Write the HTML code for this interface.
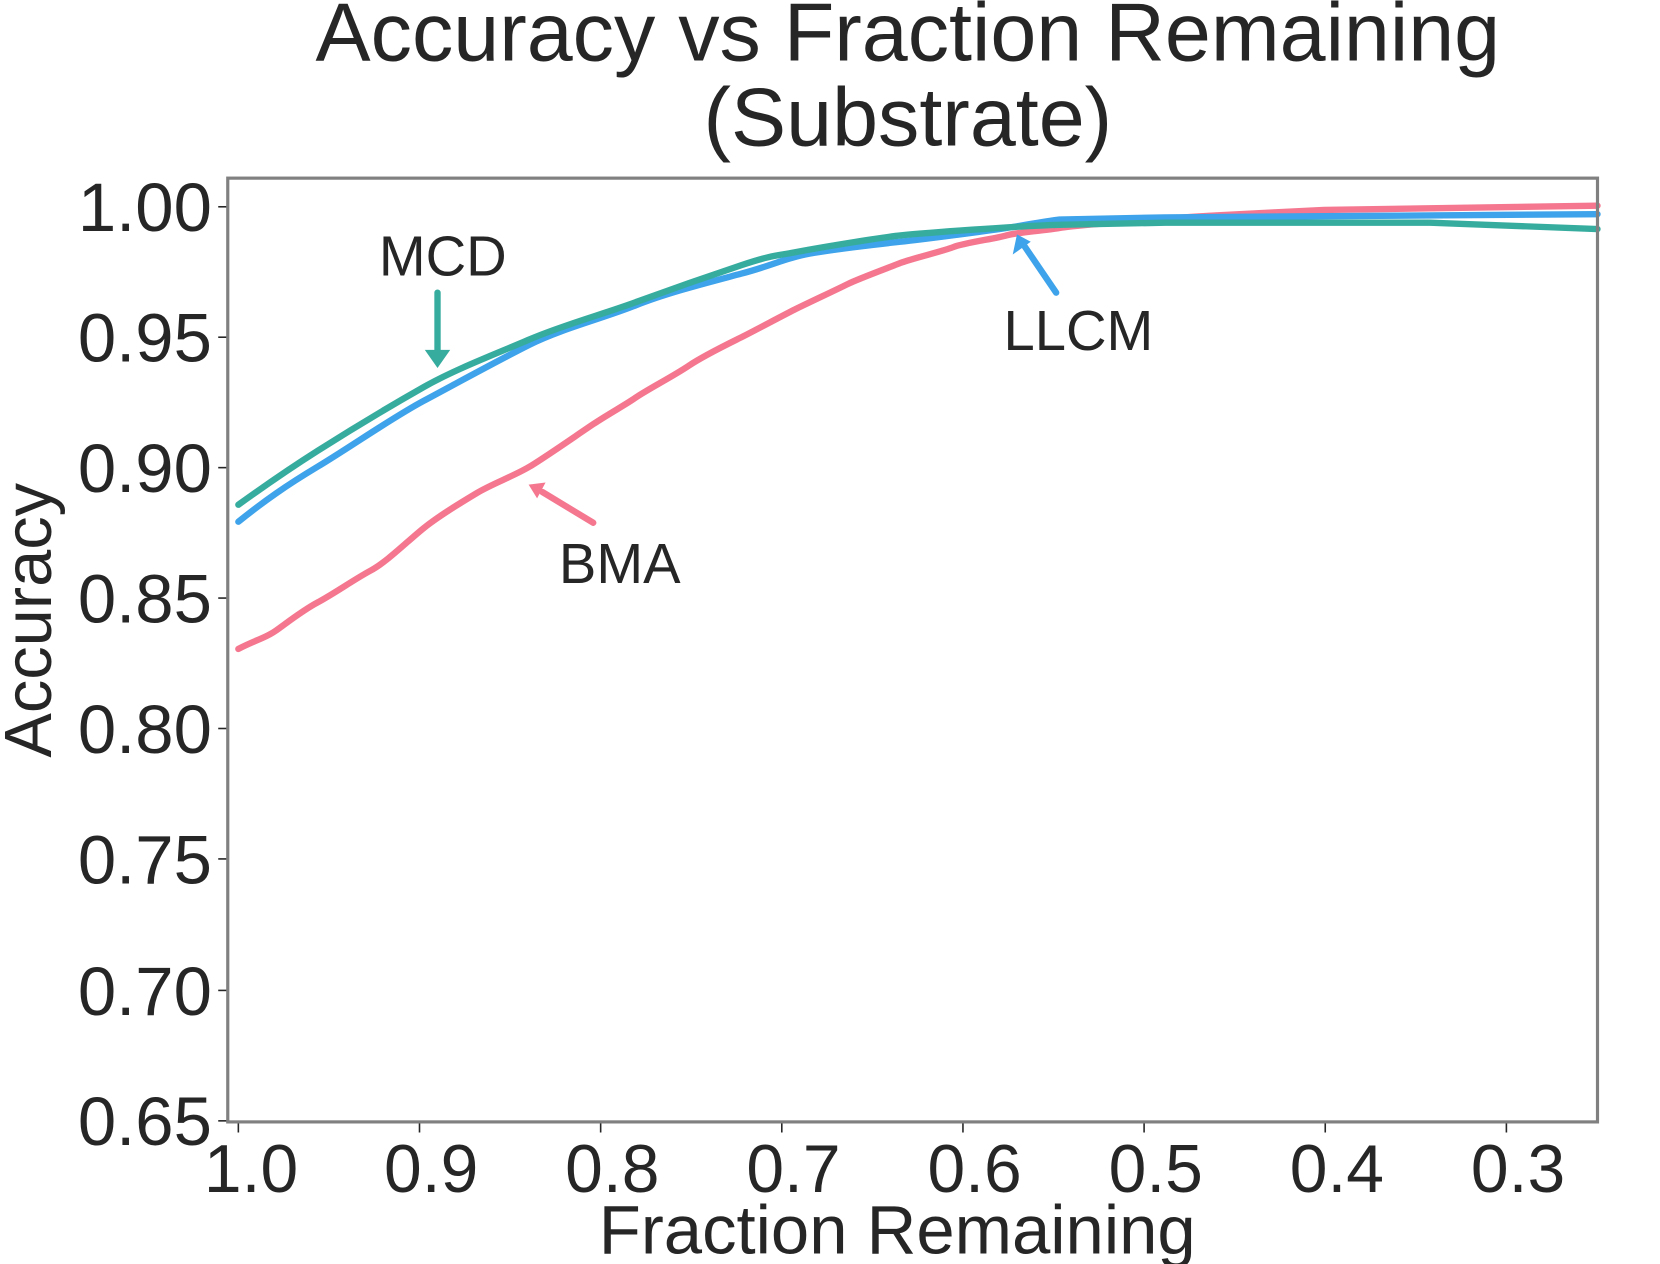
<!DOCTYPE html>
<html><head><style>html,body{margin:0;padding:0;background:#fff}svg{display:block}</style></head>
<body>
<svg width="1660" height="1264" viewBox="0 0 1567 1192" preserveAspectRatio="none" xmlns="http://www.w3.org/2000/svg" font-family="Liberation Sans, sans-serif">
<rect width="1567" height="1192" fill="#fff"/>
<text x="857" y="57" font-size="78" text-anchor="middle" fill="#262626">Accuracy vs Fraction Remaining</text>
<text x="857" y="137" font-size="78" text-anchor="middle" fill="#262626">(Substrate)</text>
<g stroke="#262626" stroke-width="1.5">
<line x1="225" y1="1058" x2="225" y2="1068"/><line x1="396" y1="1058" x2="396" y2="1068"/><line x1="567" y1="1058" x2="567" y2="1068"/><line x1="738" y1="1058" x2="738" y2="1068"/><line x1="909" y1="1058" x2="909" y2="1068"/><line x1="1080" y1="1058" x2="1080" y2="1068"/><line x1="1251" y1="1058" x2="1251" y2="1068"/><line x1="1422" y1="1058" x2="1422" y2="1068"/>
<line x1="206" y1="195" x2="215" y2="195"/><line x1="206" y1="318" x2="215" y2="318"/><line x1="206" y1="441" x2="215" y2="441"/><line x1="206" y1="564" x2="215" y2="564"/><line x1="206" y1="687" x2="215" y2="687"/><line x1="206" y1="810" x2="215" y2="810"/><line x1="206" y1="934" x2="215" y2="934"/><line x1="206" y1="1057" x2="215" y2="1057"/>
</g>
<g font-size="64" fill="#262626" text-anchor="middle">
<text x="237" y="1124">1.0</text><text x="407" y="1124">0.9</text><text x="578" y="1124">0.8</text><text x="749" y="1124">0.7</text><text x="920" y="1124">0.6</text><text x="1091" y="1124">0.5</text><text x="1262" y="1124">0.4</text><text x="1433" y="1124">0.3</text>
</g>
<g font-size="65" fill="#262626" text-anchor="end">
<text x="200" y="218">1.00</text><text x="200" y="341">0.95</text><text x="200" y="464">0.90</text><text x="200" y="587">0.85</text><text x="200" y="710">0.80</text><text x="200" y="833">0.75</text><text x="200" y="957">0.70</text><text x="200" y="1080">0.65</text>
</g>
<text x="847" y="1182" font-size="65" text-anchor="middle" fill="#262626">Fraction Remaining</text>
<text transform="translate(48,585) rotate(-90)" font-size="63" text-anchor="middle" fill="#262626">Accuracy</text>
<g fill="none" stroke-width="6" stroke-linejoin="round" stroke-linecap="round">
<path stroke="#f4778f" d="M225,612 C240,604 250,602 260,595 S285,576 300,568 S335,546 350,538 S385,510 400,498 S435,474 450,465 S485,449 500,440 S545,410 560,400 S590,382 600,375 S635,355 650,345 S690,323 700,318 S740,297 750,292 S790,273 800,268 S840,252 850,248 S890,237 900,233 S940,225 950,222 S990,217 1000,215 S1040,211 1050,210 S1130,204 1150,203 S1230,199 1250,198 L1508,194"/>
<path stroke="#3ea3ea" d="M225,492 C250,472 270,458 300,440 S370,394 400,378 S470,340 500,325 S570,300 600,288 S670,266 700,258 S740,244 760,240 S830,230 850,228 S930,218 950,215 S990,208 1000,207 L1100,205 L1508,202"/>
<path stroke="#36ac9f" d="M225,476 C250,458 270,444 300,425 S370,382 400,365 S470,333 500,320 S570,296 600,285 S670,260 700,250 S735,241 750,238 S830,224 850,222 S960,213 1000,212 L1100,210 L1350,210 L1508,216"/>
</g>
<rect x="215" y="168" width="1293" height="890" fill="none" stroke="#808080" stroke-width="3"/>
<g font-size="53" fill="#262626" text-anchor="middle">
<text x="418" y="260">MCD</text><text x="1018" y="330">LLCM</text><text x="585" y="550">BMA</text>
</g>
<g stroke-width="6" stroke-linecap="round">
<line x1="413" y1="276" x2="413" y2="332" stroke="#36ac9f"/>
<line x1="997" y1="276" x2="967" y2="232" stroke="#3ea3ea"/>
<line x1="560" y1="493" x2="512" y2="464" stroke="#f4778f"/>
</g>
<polygon points="401,330 425,330 413,347" fill="#36ac9f"/>
<polygon points="956,240 973,228 960,221" fill="#3ea3ea"/>
<polygon points="515,455 507,470 499,457" fill="#f4778f"/>
</svg>
</body></html>
